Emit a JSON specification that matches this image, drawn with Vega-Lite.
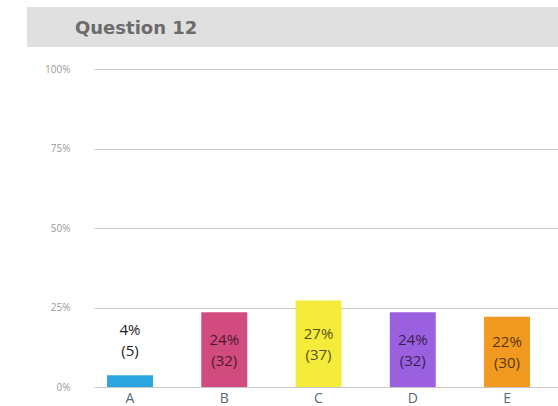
{
  "$schema": "https://vega.github.io/schema/vega-lite/v6.json",
  "padding": {"left": 27, "top": 7, "right": 0, "bottom": 0},
  "background": "white",
  "spacing": 17,
  "config": {"view": {"stroke": null}},
  "vconcat": [
    {
      "width": 531,
      "height": 40,
      "data": {"values": [{"title": "Question 12"}]},
      "title": {
        "text": "Question 12",
        "anchor": "start",
        "orient": "top",
        "dx": 48,
        "dy": 20,
        "offset": -20,
        "baseline": "middle",
        "font": "DejaVu Sans",
        "fontSize": 18,
        "fontWeight": "bold",
        "color": "#6b6b6b"
      },
      "mark": {"type": "rect", "color": "#e0e0e0"},
      "encoding": {}
    },
    {
      "width": 531,
      "height": 318,
      "data": {
        "values": [
          {"answer": "A", "value": 3.7, "n": 5},
          {"answer": "B", "value": 23.5, "n": 32},
          {"answer": "C", "value": 27.2, "n": 37},
          {"answer": "D", "value": 23.5, "n": 32},
          {"answer": "E", "value": 22.1, "n": 30}
        ]
      },
      "transform": [
        {"calculate": "round(datum.value) + '%\\n(' + datum.n + ')'", "as": "label"},
        {"calculate": "datum.value < 10 ? 14.9 : datum.value / 2", "as": "labelY"},
        {"calculate": "datum.value < 10", "as": "outside"}
      ],
      "encoding": {
        "x": {
          "field": "answer",
          "type": "nominal",
          "sort": null,
          "scale": {"paddingInner": 0.512, "paddingOuter": 0.573, "align": 0.741},
          "axis": {
            "title": null,
            "labelAngle": 0,
            "ticks": false,
            "domain": false,
            "labelFont": "Open Sans",
            "labelFontSize": 14,
            "labelColor": "#56687a",
            "labelPadding": 4
          }
        }
      },
      "layer": [
        {
          "mark": {"type": "bar"},
          "encoding": {
            "y": {
              "field": "value",
              "type": "quantitative",
              "scale": {"domain": [0, 100]},
              "axis": {
                "title": null,
                "values": [0, 25, 50, 75, 100],
                "labelExpr": "datum.value + '%'",
                "offset": -67,
                "grid": false,
                "domain": false,
                "ticks": true,
                "tickSize": -464,
                "tickColor": "#c8c8c8",
                "tickWidth": 1,
                "labelFont": "Open Sans",
                "labelFontSize": 10,
                "labelColor": "#9a9a9a",
                "labelPadding": 488,
                "labelAlign": "right"
              }
            },
            "color": {
              "field": "answer",
              "type": "nominal",
              "legend": null,
              "scale": {
                "domain": ["A", "B", "C", "D", "E"],
                "range": ["#2aa5de", "#d24b7e", "#f4eb3a", "#9b60e0", "#f29a20"]
              }
            }
          }
        },
        {
          "mark": {
            "type": "text",
            "font": "Open Sans",
            "fontSize": 15,
            "lineHeight": 21,
            "lineBreak": "\n",
            "baseline": "middle",
            "align": "center",
            "dy": -10
          },
          "encoding": {
            "y": {"field": "labelY", "type": "quantitative"},
            "text": {"field": "label"},
            "color": {"value": "#000000"},
            "opacity": {
              "condition": {"test": "datum.outside", "value": 0.88},
              "value": 0.66
            }
          }
        }
      ]
    }
  ]
}
